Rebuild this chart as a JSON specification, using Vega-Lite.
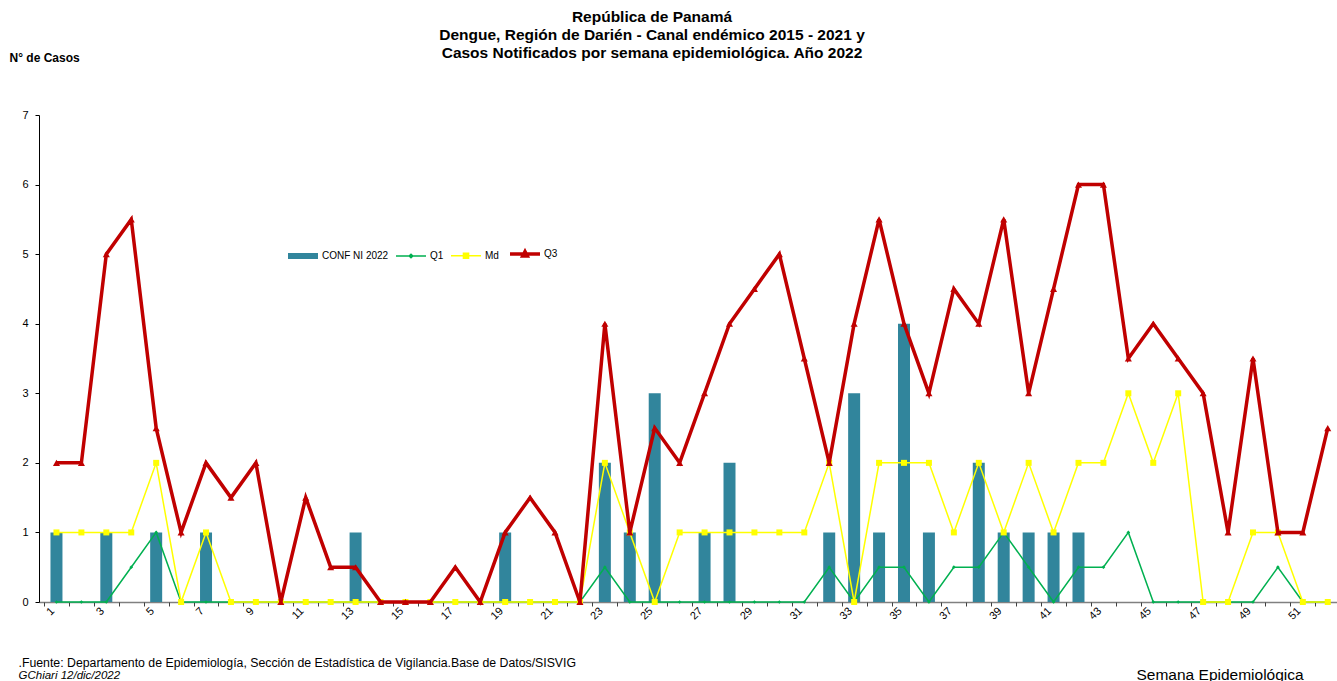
{
  "$schema": "https://vega.github.io/schema/vega-lite/v6.json",
  "width": 1298,
  "height": 487,
  "autosize": {"type": "none"},
  "padding": {"left": 39, "top": 115, "right": 0, "bottom": 79},
  "background": "white",
  "config": {
    "view": {"stroke": null},
    "font": "Liberation Sans",
    "legend": {"symbolSize": 900}
  },
  "title": {
    "text": ["República de Panamá", "Dengue, Región de Darién - Canal endémico 2015 - 2021 y", "Casos Notificados por semana epidemiológica. Año 2022"],
    "font": "Liberation Sans",
    "fontSize": 15.5,
    "fontWeight": "bold",
    "color": "#000000",
    "lineHeight": 18,
    "anchor": "middle",
    "frame": "group",
    "dx": -36,
    "offset": -10
  },
  "data": {
    "values": [
      {"semana": 1, "conf": 1, "q1": 0, "md": 1, "q3": 2},
      {"semana": 2, "conf": 0, "q1": 0, "md": 1, "q3": 2},
      {"semana": 3, "conf": 1, "q1": 0, "md": 1, "q3": 5},
      {"semana": 4, "conf": 0, "q1": 0.5, "md": 1, "q3": 5.5},
      {"semana": 5, "conf": 1, "q1": 1, "md": 2, "q3": 2.5},
      {"semana": 6, "conf": 0, "q1": 0, "md": 0, "q3": 1},
      {"semana": 7, "conf": 1, "q1": 0, "md": 1, "q3": 2},
      {"semana": 8, "conf": 0, "q1": 0, "md": 0, "q3": 1.5},
      {"semana": 9, "conf": 0, "q1": 0, "md": 0, "q3": 2},
      {"semana": 10, "conf": 0, "q1": 0, "md": 0, "q3": 0},
      {"semana": 11, "conf": 0, "q1": 0, "md": 0, "q3": 1.5},
      {"semana": 12, "conf": 0, "q1": 0, "md": 0, "q3": 0.5},
      {"semana": 13, "conf": 1, "q1": 0, "md": 0, "q3": 0.5},
      {"semana": 14, "conf": 0, "q1": 0, "md": 0, "q3": 0},
      {"semana": 15, "conf": 0, "q1": 0, "md": 0, "q3": 0},
      {"semana": 16, "conf": 0, "q1": 0, "md": 0, "q3": 0},
      {"semana": 17, "conf": 0, "q1": 0, "md": 0, "q3": 0.5},
      {"semana": 18, "conf": 0, "q1": 0, "md": 0, "q3": 0},
      {"semana": 19, "conf": 1, "q1": 0, "md": 0, "q3": 1},
      {"semana": 20, "conf": 0, "q1": 0, "md": 0, "q3": 1.5},
      {"semana": 21, "conf": 0, "q1": 0, "md": 0, "q3": 1},
      {"semana": 22, "conf": 0, "q1": 0, "md": 0, "q3": 0},
      {"semana": 23, "conf": 2, "q1": 0.5, "md": 2, "q3": 4},
      {"semana": 24, "conf": 1, "q1": 0, "md": 1, "q3": 1},
      {"semana": 25, "conf": 3, "q1": 0, "md": 0, "q3": 2.5},
      {"semana": 26, "conf": 0, "q1": 0, "md": 1, "q3": 2},
      {"semana": 27, "conf": 1, "q1": 0, "md": 1, "q3": 3},
      {"semana": 28, "conf": 2, "q1": 0, "md": 1, "q3": 4},
      {"semana": 29, "conf": 0, "q1": 0, "md": 1, "q3": 4.5},
      {"semana": 30, "conf": 0, "q1": 0, "md": 1, "q3": 5},
      {"semana": 31, "conf": 0, "q1": 0, "md": 1, "q3": 3.5},
      {"semana": 32, "conf": 1, "q1": 0.5, "md": 2, "q3": 2},
      {"semana": 33, "conf": 3, "q1": 0, "md": 0, "q3": 4},
      {"semana": 34, "conf": 1, "q1": 0.5, "md": 2, "q3": 5.5},
      {"semana": 35, "conf": 4, "q1": 0.5, "md": 2, "q3": 4},
      {"semana": 36, "conf": 1, "q1": 0, "md": 2, "q3": 3},
      {"semana": 37, "conf": 0, "q1": 0.5, "md": 1, "q3": 4.5},
      {"semana": 38, "conf": 2, "q1": 0.5, "md": 2, "q3": 4},
      {"semana": 39, "conf": 1, "q1": 1, "md": 1, "q3": 5.5},
      {"semana": 40, "conf": 1, "q1": 0.5, "md": 2, "q3": 3},
      {"semana": 41, "conf": 1, "q1": 0, "md": 1, "q3": 4.5},
      {"semana": 42, "conf": 1, "q1": 0.5, "md": 2, "q3": 6},
      {"semana": 43, "conf": 0, "q1": 0.5, "md": 2, "q3": 6},
      {"semana": 44, "conf": 0, "q1": 1, "md": 3, "q3": 3.5},
      {"semana": 45, "conf": 0, "q1": 0, "md": 2, "q3": 4},
      {"semana": 46, "conf": 0, "q1": 0, "md": 3, "q3": 3.5},
      {"semana": 47, "conf": 0, "q1": 0, "md": 0, "q3": 3},
      {"semana": 48, "conf": 0, "q1": 0, "md": 0, "q3": 1},
      {"semana": 49, "conf": 0, "q1": 0, "md": 1, "q3": 3.5},
      {"semana": 50, "conf": 0, "q1": 0.5, "md": 1, "q3": 1},
      {"semana": 51, "conf": 0, "q1": 0, "md": 0, "q3": 1},
      {"semana": 52, "conf": 0, "q1": 0, "md": 0, "q3": 2.5}
    ]
  },
  "resolve": {"axis": {"x": "independent", "y": "independent"}},
  "layer": [
    {
      "mark": {"type": "bar", "width": 12, "color": "#31859C"},
      "encoding": {
        "x": {
          "field": "semana", "type": "quantitative",
          "scale": {"domain": [0.5, 52.17], "nice": false, "zero": false},
          "axis": {
            "orient": "bottom",
            "values": [1,3,5,7,9,11,13,15,17,19,21,23,25,27,29,31,33,35,37,39,41,43,45,47,49,51],
            "labelAngle": -45,
            "labelAlign": "right",
            "labelBaseline": "middle",
            "labelFontSize": 11,
            "labelColor": "#000000",
            "labelPadding": 7,
            "labelOffset": -4,
            "labelFlush": false,
            "labelOverlap": false,
            "ticks": false,
            "grid": false,
            "domainColor": "#808080",
            "domainWidth": 1.5,
            "title": "Semana Epidemiológica",
            "titleFont": "Liberation Sans",
            "titleFontSize": 15.5,
            "titleFontWeight": "normal",
            "titleColor": "#000000",
            "titleAlign": "left",
            "titleBaseline": "middle",
            "titleAngle": 0,
            "titleX": 1097,
            "titleY": 72
          }
        },
        "y": {
          "field": "conf", "type": "quantitative",
          "scale": {"domain": [0, 7], "nice": false},
          "axis": {
            "values": [0,1,2,3,4,5,6,7],
            "grid": false,
            "tickSize": 4,
            "tickColor": "#000000",
            "domainColor": "#000000",
            "labelFontSize": 11,
            "labelColor": "#000000",
            "labelPadding": 7,
            "title": "N° de Casos",
            "titleFont": "Liberation Sans",
            "titleFontSize": 12,
            "titleFontWeight": "bold",
            "titleColor": "#000000",
            "titleAngle": 0,
            "titleAlign": "left",
            "titleBaseline": "middle",
            "titleX": -30,
            "titleY": -58
          }
        }
      }
    },
    {
      "mark": {"type": "line", "color": "#00B050", "strokeWidth": 1.5},
      "encoding": {
        "x": {
          "field": "semana", "type": "quantitative",
          "axis": {
            "orient": "bottom",
            "values": [0.5,1.5,2.5,3.5,4.5,5.5,6.5,7.5,8.5,9.5,10.5,11.5,12.5,13.5,14.5,15.5,16.5,17.5,18.5,19.5,20.5,21.5,22.5,23.5,24.5,25.5,26.5,27.5,28.5,29.5,30.5,31.5,32.5,33.5,34.5,35.5,36.5,37.5,38.5,39.5,40.5,41.5,42.5,43.5,44.5,45.5,46.5,47.5,48.5,49.5,50.5,51.5],
            "labels": false,
            "domain": false,
            "grid": false,
            "ticks": true,
            "tickSize": 4,
            "tickColor": "#404040",
            "title": ".Fuente: Departamento de Epidemiología, Sección de Estadística de Vigilancia.Base de Datos/SISVIG",
            "titleFont": "Liberation Sans",
            "titleFontSize": 12.3,
            "titleFontWeight": "normal",
            "titleColor": "#000000",
            "titleAlign": "left",
            "titleBaseline": "middle",
            "titleAngle": 0,
            "titleX": -21,
            "titleY": 60
          }
        },
        "y": {"field": "q1", "type": "quantitative", "axis": null}
      }
    },
    {
      "mark": {"type": "point", "shape": "diamond", "filled": true, "size": 14, "color": "#00B050", "opacity": 1},
      "encoding": {
        "x": {"field": "semana", "type": "quantitative", "axis": null},
        "y": {"field": "q1", "type": "quantitative", "axis": null}
      }
    },
    {
      "mark": {"type": "line", "color": "#FFFF00", "strokeWidth": 1.5},
      "encoding": {
        "x": {"field": "semana", "type": "quantitative", "axis": null},
        "y": {
          "field": "md", "type": "quantitative",
          "axis": {
            "orient": "left",
            "labels": false,
            "ticks": false,
            "domain": false,
            "grid": false,
            "title": "GChiari 12/dic/2022",
            "titleFont": "Liberation Sans",
            "titleFontSize": 11.5,
            "titleFontStyle": "italic",
            "titleFontWeight": "normal",
            "titleColor": "#000000",
            "titleAngle": 0,
            "titleAlign": "left",
            "titleBaseline": "middle",
            "titleX": -21,
            "titleY": 560
          }
        }
      }
    },
    {
      "mark": {"type": "point", "shape": "square", "filled": true, "size": 36, "color": "#FFFF00", "opacity": 1},
      "encoding": {
        "x": {"field": "semana", "type": "quantitative", "axis": null},
        "y": {"field": "md", "type": "quantitative", "axis": null}
      }
    },
    {
      "mark": {"type": "line", "color": "#C00000", "strokeWidth": 3.5, "strokeJoin": "miter"},
      "encoding": {
        "x": {"field": "semana", "type": "quantitative", "axis": null},
        "y": {"field": "q3", "type": "quantitative", "axis": null}
      }
    },
    {
      "mark": {"type": "point", "shape": "triangle-up", "filled": true, "size": 50, "color": "#C00000", "opacity": 1},
      "encoding": {
        "x": {"field": "semana", "type": "quantitative", "axis": null},
        "y": {"field": "q3", "type": "quantitative", "axis": null}
      }
    },
    {
      "data": {"values": []},
      "mark": {"type": "point", "filled": true, "opacity": 1},
      "encoding": {
        "x": {"field": "semana", "type": "quantitative", "axis": null},
        "y": {"field": "q3", "type": "quantitative", "axis": null},
        "color": {
          "field": "serie", "type": "nominal",
          "scale": {"domain": ["CONF NI 2022", "Q1", "Md", "Q3"], "range": ["#31859C", "#00B050", "#FFFF00", "#C00000"]},
          "legend": {
            "orient": "none",
            "legendX": 259,
            "legendY": 134,
            "direction": "horizontal",
            "title": null,
            "symbolSize": 900,
            "symbolOpacity": 1,
            "labelFont": "Liberation Sans",
            "labelFontSize": 10,
            "labelColor": "#000000",
            "labelOffset": 14,
            "columnPadding": 4,
            "encode": {
              "symbols": {
                "update": {
                  "size": {"value": 900},
                  "stroke": {"scale": "color", "field": "value"},
                  "strokeWidth": {"signal": "datum.value === 'Q3' ? 3.5 : (datum.value === 'CONF NI 2022' ? 0 : 1.5)"},
                  "fillOpacity": {"value": 1},
                  "opacity": {"value": 1}
                }
              }
            }
          }
        },
        "shape": {
          "field": "serie", "type": "nominal",
          "scale": {"domain": ["CONF NI 2022", "Q1", "Md", "Q3"], "range": [
            "M-1,-0.2H1V0.2H-1Z",
            "M-1,0H1M0,-0.12L0.12,0L0,0.12L-0.12,0Z",
            "M-1,0H1M-0.17,-0.17H0.17V0.17H-0.17Z",
            "M-1,0H1M-0.15,0.13L0,-0.16L0.15,0.13Z"
          ]},
          "legend": null
        }
      }
    }
  ]
}
